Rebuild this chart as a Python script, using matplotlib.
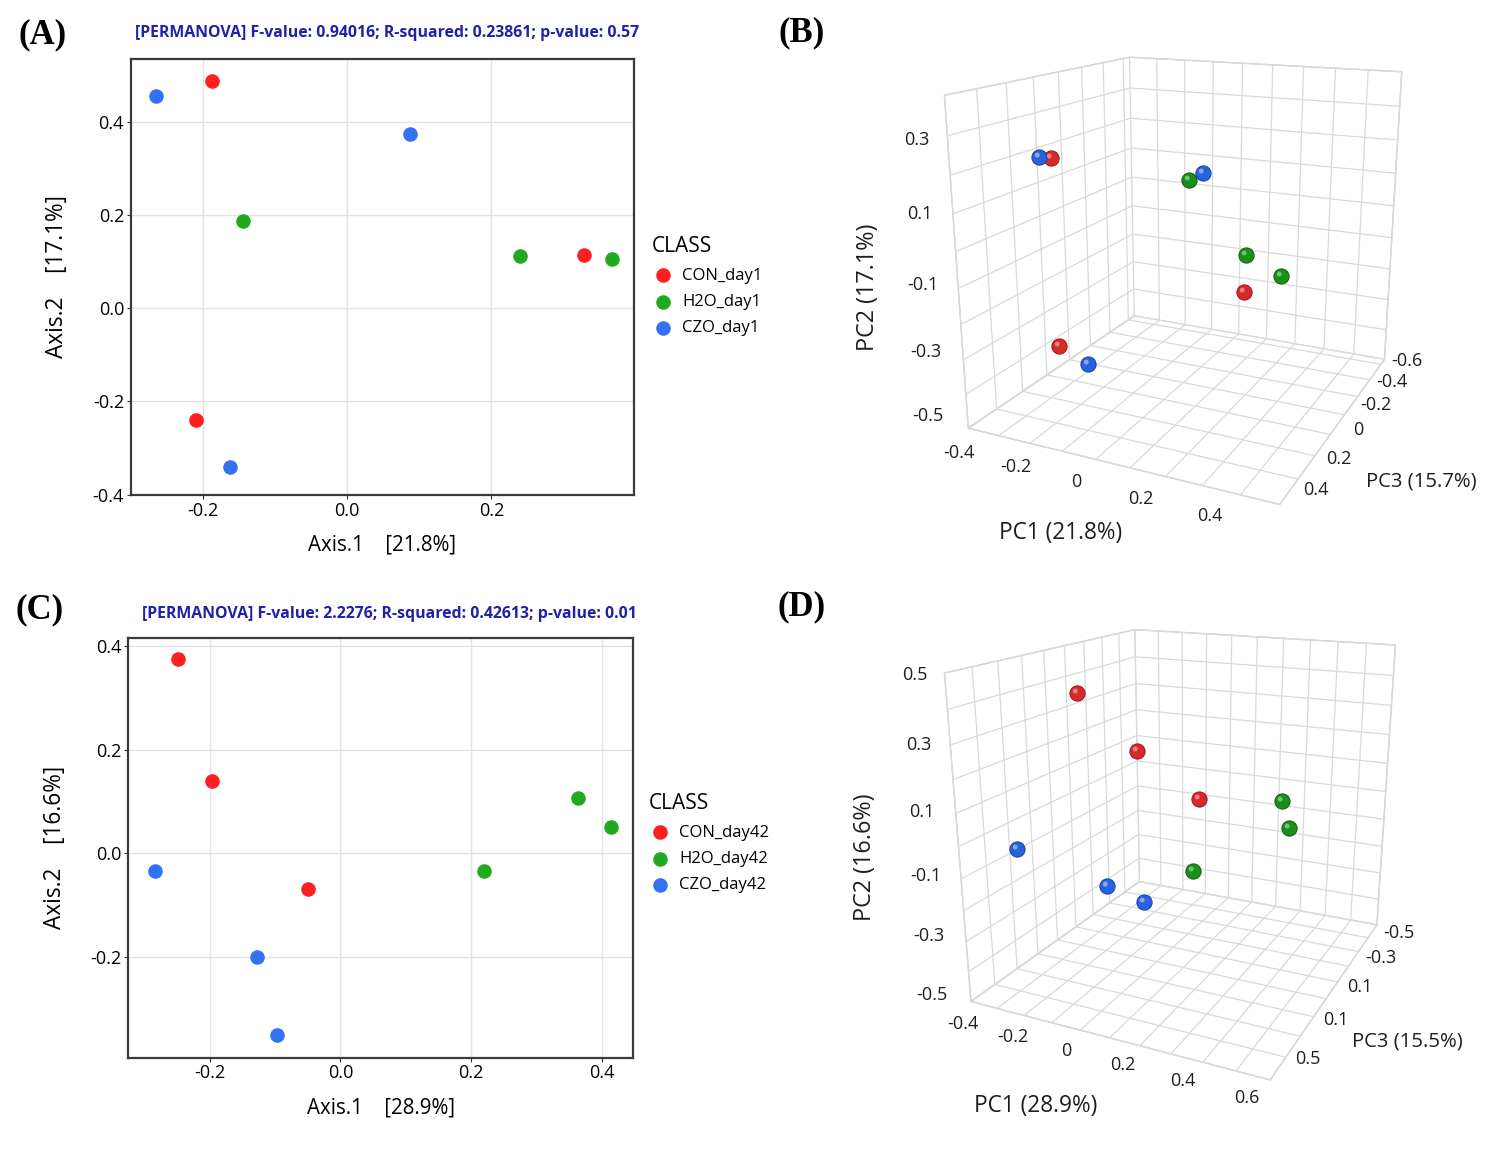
import numpy as np
import matplotlib
matplotlib.use('Agg')
import matplotlib.pyplot as plt
from matplotlib.path import Path

plt.rcParams['font.family'] = ['Open Sans', 'DejaVu Sans']
FW, FH = 1500, 1159

# ---------------- data ----------------
# (A) PCoA, day 1
a_con_x = [-0.188, 0.329, -0.210]
a_con_y = [0.488, 0.115, -0.240]
a_h2o_x = [-0.144, 0.240, 0.368]
a_h2o_y = [0.188, 0.111, 0.105]
a_czo_x = [-0.265, 0.087, -0.163]
a_czo_y = [0.456, 0.373, -0.340]

# (C) PCoA, day 42
c_con_x = [-0.248, -0.196, -0.049]
c_con_y = [0.375, 0.139, -0.068]
c_h2o_x = [0.363, 0.414, 0.220]
c_h2o_y = [0.107, 0.051, -0.034]
c_czo_x = [-0.283, -0.128, -0.097]
c_czo_y = [-0.034, -0.199, -0.349]

# (B) 3D, day 1
b_con_pc1 = [-0.188, 0.329, -0.210]
b_con_pc2 = [0.237, -0.056, -0.292]
b_con_pc3 = [0.341, 0.294, 0.299]
b_h2o_pc1 = [-0.144, 0.240, 0.368]
b_h2o_pc2 = [0.032, -0.040, -0.057]
b_h2o_pc3 = [-0.500, 0.024, 0.113]
b_czo_pc1 = [-0.265, 0.087, -0.163]
b_czo_pc2 = [0.221, 0.158, -0.362]
b_czo_pc3 = [0.269, -0.039, 0.218]

# (D) 3D, day 42
d_con_pc1 = [-0.248, -0.196, -0.049]
d_con_pc2 = [0.384, 0.143, -0.064]
d_con_pc3 = [0.039, -0.196, -0.362]
d_h2o_pc1 = [0.363, 0.414, 0.220]
d_h2o_pc2 = [0.051, -0.013, -0.083]
d_h2o_pc3 = [-0.156, -0.105, 0.143]
d_czo_pc1 = [-0.283, -0.128, -0.097]
d_czo_pc2 = [-0.031, -0.216, -0.339]
d_czo_pc3 = [0.296, 0.080, -0.076]

classes_day1 = ['CON_day1', 'H2O_day1', 'CZO_day1']
classes_day42 = ['CON_day42', 'H2O_day42', 'CZO_day42']

colors2d = ['#ff1f1f', '#1faa1f', '#3371f5']
sphere_col = ['#d42a2a', '#1b8f1b', '#2763e0']
sphere_edge = ['#9a1414', '#0e5c0e', '#163f9e']
sphere_spot = ['#ff9090', '#80d880', '#a0bcff']

fig = plt.figure(figsize=(15, 11.59), dpi=100)


def px2fig(x, y):
    return x / FW, 1 - y / FH


# ---------------- 2D panels ----------------
def panel2d(rect_px, xs, ys, labels, xlim, ylim, xticks, yticks, xlab, ylab, leg_xy):
    l, t, r, b = rect_px
    ax = fig.add_axes([l / FW, 1 - b / FH, (r - l) / FW, (b - t) / FH])
    for x, y, c, lab in zip(xs, ys, colors2d, labels):
        ax.scatter(x, y, s=110, color=c, label=lab, zorder=3, linewidths=0)
    ax.set_xlim(xlim)
    ax.set_ylim(ylim)
    ax.set_xticks(xticks)
    ax.set_yticks(yticks)
    ax.set_xticklabels([f'{v:.1f}' for v in xticks])
    ax.set_yticklabels([f'{v:.1f}' for v in yticks])
    ax.grid(True, color='#e3e3e3', lw=1)
    ax.set_axisbelow(True)
    for sp in ax.spines.values():
        sp.set_color('#3a3a3a')
        sp.set_linewidth(1.6)
    ax.tick_params(labelsize=13, length=3, color='#333333', pad=2)
    ax.set_xlabel(xlab, fontsize=14.8, labelpad=10.5)
    ax.set_ylabel(ylab, fontsize=16.3, labelpad=17)
    ax.legend(title='CLASS', loc='upper left', bbox_to_anchor=px2fig(*leg_xy),
              bbox_transform=fig.transFigure, frameon=False, fontsize=12,
              title_fontsize=15, handlelength=1.45, handletextpad=0.4,
              labelspacing=0.62, borderpad=0, alignment='left')
    return ax


panel2d((131, 58.9, 634, 494.6), [a_con_x, a_h2o_x, a_czo_x], [a_con_y, a_h2o_y, a_czo_y],
        classes_day1, (-0.300, 0.398), (-0.40, 0.535), [-0.2, 0.0, 0.2],
        [-0.4, -0.2, 0.0, 0.2, 0.4], 'Axis.1    [21.8%]', 'Axis.2    [17.1%]', (643, 228))
panel2d((128.4, 638, 632.8, 1057.5), [c_con_x, c_h2o_x, c_czo_x], [c_con_y, c_h2o_y, c_czo_y],
        classes_day42, (-0.324, 0.447), (-0.393, 0.415), [-0.2, 0.0, 0.2, 0.4],
        [-0.2, 0.0, 0.2, 0.4], 'Axis.1    [28.9%]', 'Axis.2    [16.6%]', (640, 785))

fig.text(*px2fig(387.5, 33), '[PERMANOVA] F-value: 0.94016; R-squared: 0.23861; p-value: 0.57',
         color='#1f22a8', fontsize=11.45, fontweight='bold', ha='center', va='center')
fig.text(*px2fig(389, 614), '[PERMANOVA] F-value: 2.2276; R-squared: 0.42613; p-value: 0.01',
         color='#1f22a8', fontsize=11.45, fontweight='bold', ha='center', va='center')
for lab, x, y in (('(A)', 43, 35), ('(B)', 802, 33), ('(C)', 40, 610), ('(D)', 802, 607)):
    fig.text(*px2fig(x, y), lab, fontsize=25, fontweight='bold', family='Liberation Serif',
             ha='center', va='center')

# ---------------- 3D panels ----------------
# small light spot drawn on top of each ball to give it a shaded look
_c = Path.circle(center=(-0.15, 0.16), radius=0.16)
spot_marker = Path(np.vstack([[0.5, 0.5], [-0.5, -0.5], _c.vertices]),
                   np.concatenate([[Path.MOVETO, Path.MOVETO], _c.codes]))


def panel3d(pos_px, view, lim1, lim2, lim3, grid1, grid2, grid3, pc1s, pc2s, pc3s):
    # mpl x = PC3, y = PC1, z = PC2
    ax = fig.add_axes([pos_px[0] / FW, pos_px[1] / FH, 560 / FW, 560 / FH], projection='3d')
    ax.set_facecolor('none')
    ax.computed_zorder = False
    ax.set_xlim(lim3)
    ax.set_ylim(lim1)
    ax.set_zlim(lim2)
    elev, azim, f, rx, rz, zoom = view
    ax.view_init(elev=elev, azim=azim)
    ax.set_proj_type('persp', focal_length=f * zoom)
    ax.set_box_aspect((rx, 1.0, rz), zoom=zoom)
    ax.set_xticks(grid3)
    ax.set_yticks(grid1)
    ax.set_zticks(grid2)
    for axis in (ax.xaxis, ax.yaxis, ax.zaxis):
        axis.set_pane_color((1, 1, 1, 1))
        axis.pane.set_edgecolor('#cdcdcd')
        axis.pane.set_linewidth(1.0)
        axis._axinfo['grid'].update(color='#d9d9d9', linewidth=0.9)
        axis._axinfo['tick'].update(inward_factor=0.0, outward_factor=0.0)
        axis.line.set_color((1, 1, 1, 0))
        axis.set_major_formatter(plt.NullFormatter())
    for g in range(3):
        ax.scatter(pc3s[g], pc1s[g], pc2s[g], s=120, color=sphere_col[g],
                   edgecolors=sphere_edge[g], linewidths=0.7, depthshade=False, zorder=4)
        ax.scatter(pc3s[g], pc1s[g], pc2s[g], s=120, marker=spot_marker,
                   color=sphere_spot[g], linewidths=0, alpha=0.8, depthshade=False, zorder=5)
    return ax


def proj_px(ax, x, y, z):
    M = ax.get_proj()
    w = M @ np.array([x, y, z, 1.0])
    d = ax.transData.transform((w[0] / w[3], w[1] / w[3]))
    return d[0], FH - d[1]


def tick_texts(ax, which, ticks, labels, fixed, off0, off1):
    n = len(ticks)
    for i, (t, lab) in enumerate(zip(ticks, labels)):
        p = list(fixed)
        p[which] = t
        x, y = proj_px(ax, *p)
        fr = i / (n - 1)
        dx = off0[0] + fr * (off1[0] - off0[0])
        dy = off0[1] + fr * (off1[1] - off0[1])
        fig.text(*px2fig(x + dx, y + dy), lab, fontsize=13, color='#1e1e1e',
                 ha='center', va='center')


grid_b1 = [-0.4, -0.3, -0.2, -0.1, 0.0, 0.1, 0.2, 0.3, 0.4, 0.5]
grid_b2 = [-0.5, -0.4, -0.3, -0.2, -0.1, 0.0, 0.1, 0.2, 0.3, 0.4]
grid_b3 = [-0.55, -0.4, -0.25, -0.1, 0.05, 0.2, 0.35, 0.5]
grid_d1 = [-0.4, -0.3, -0.2, -0.1, 0.0, 0.1, 0.2, 0.3, 0.4, 0.5, 0.6]
grid_d2 = [-0.5, -0.4, -0.3, -0.2, -0.1, 0.0, 0.1, 0.2, 0.3, 0.4, 0.5]
grid_d3 = [-0.5, -0.4, -0.3, -0.2, -0.1, 0.0, 0.1, 0.2, 0.3, 0.4]

axB = panel3d((904.7, 627.4), (16.79, 25.31, 0.3369, 1.0480, 1.0043, 0.9786),
              (-0.4, 0.5), (-0.5, 0.4), (-0.6, 0.5), grid_b1, grid_b2, grid_b3,
              [b_con_pc1, b_h2o_pc1, b_czo_pc1], [b_con_pc2, b_h2o_pc2, b_czo_pc2],
              [b_con_pc3, b_h2o_pc3, b_czo_pc3])
axD = panel3d((903.5, 54.8), (18.00, 25.37, 0.3232, 1.1107, 1.0314, 0.9673),
              (-0.4, 0.6), (-0.5, 0.5), (-0.5, 0.4), grid_d1, grid_d2, grid_d3,
              [d_con_pc1, d_h2o_pc1, d_czo_pc1], [d_con_pc2, d_h2o_pc2, d_czo_pc2],
              [d_con_pc3, d_h2o_pc3, d_czo_pc3])

fig.canvas.draw()

# tick labels (placed next to the box edges)
tick_texts(axB, 1, [-0.4, -0.2, 0.0, 0.2, 0.4], ['-0.4', '-0.2', '0', '0.2', '0.4'],
           (0.5, 0, -0.5), (-9, 25), (-30, 21))
tick_texts(axB, 0, [-0.6, -0.4, -0.2, 0.0, 0.2, 0.4], ['-0.6', '-0.4', '-0.2', '0', '0.2', '0.4'],
           (0, 0.5, -0.5), (22, 2), (24, 3))
tick_texts(axB, 2, [0.3, 0.1, -0.1, -0.3, -0.5], ['0.3', '0.1', '-0.1', '-0.3', '-0.5'],
           (0.5, -0.4, 0), (-31, 4), (-40, -12))
tick_texts(axD, 1, [-0.4, -0.2, 0.0, 0.2, 0.4, 0.6], ['-0.4', '-0.2', '0', '0.2', '0.4', '0.6'],
           (0.4, 0, -0.5), (-8, 22), (-23, 18))
tick_texts(axD, 0, [-0.5, -0.3, -0.1, 0.1, 0.3], ['-0.5', '-0.3', '0.1', '0.1', '0.5'],
           (0, 0.6, -0.5), (22, 8), (22, 2))
tick_texts(axD, 2, [0.5, 0.3, 0.1, -0.1, -0.3, -0.5], ['0.5', '0.3', '0.1', '-0.1', '-0.3', '-0.5'],
           (0.4, -0.4, 0), (-30, 2), (-39, -7))

# axis titles of the 3D panels
for txt, x, y, fs, rot in (('PC1 (21.8%)', 1061, 533, 16.3, 0), ('PC2 (17.1%)', 868, 287, 16.8, 90),
                           ('PC3 (15.7%)', 1421.7, 481, 14.6, 0),
                           ('PC1 (28.9%)', 1035.4, 1106, 16.3, 0), ('PC2 (16.6%)', 865.4, 857, 16.8, 90),
                           ('PC3 (15.5%)', 1407.8, 1042, 14.6, 0)):
    fig.text(*px2fig(x, y), txt, fontsize=fs, rotation=rot, ha='center', va='center', color='#1e1e1e')

fig.savefig('out.png', dpi=100)
